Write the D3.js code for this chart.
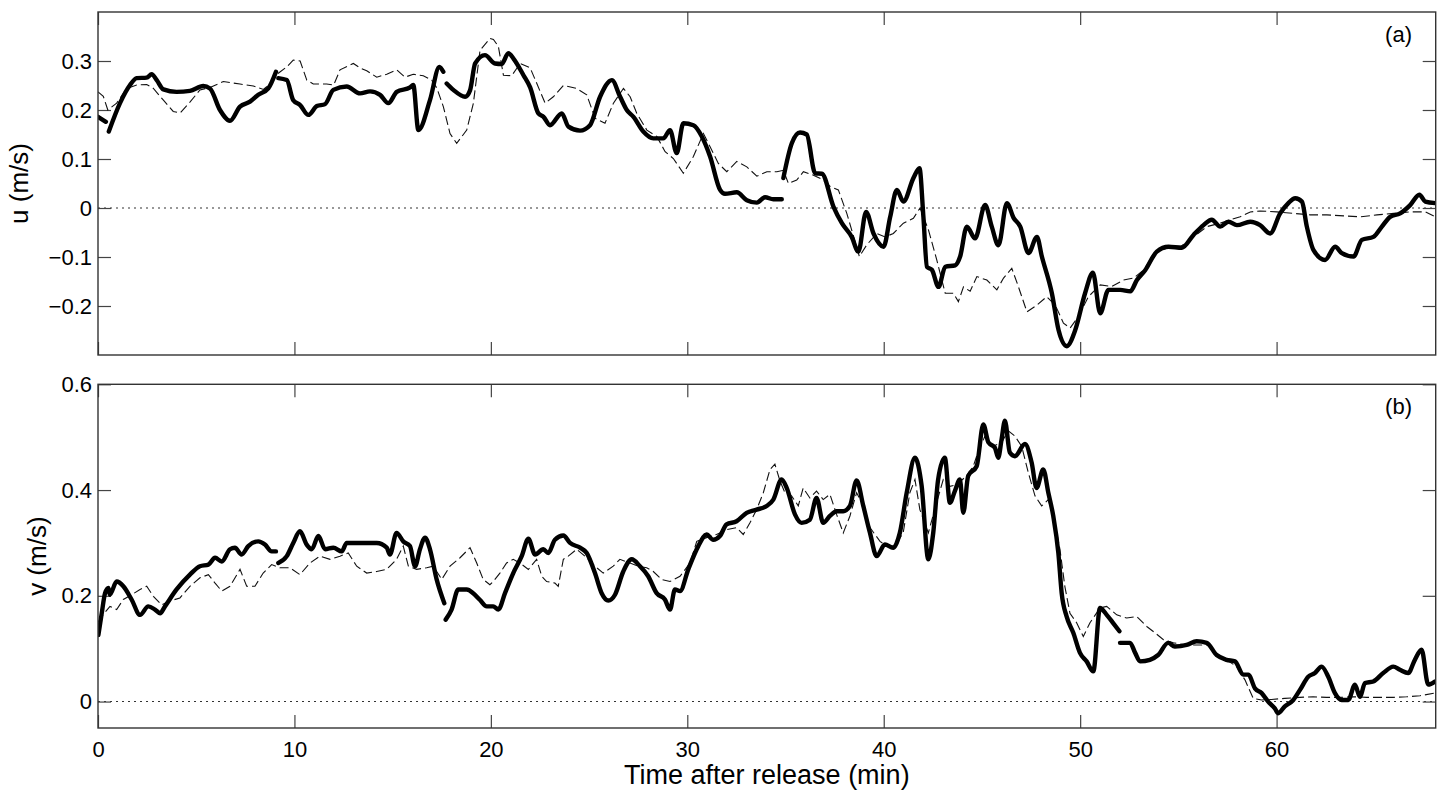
<!DOCTYPE html>
<html>
<head>
<meta charset="utf-8">
<script src="https://cdn.jsdelivr.net/npm/d3@7"></script>
<style>
  html, body { margin: 0; padding: 0; background: #fff; }
  svg { display: block; }
  text { font-family: "Liberation Sans", Arial, Helvetica, sans-serif; fill: #000; }
</style>
</head>
<body>
<svg id="chart" width="1442" height="793"></svg>
<script>
// ---------------- DATA ----------------
const xTicks = [0, 10, 20, 30, 40, 50, 60];
const uTicks = [-0.2, -0.1, 0, 0.1, 0.2, 0.3];
const vTicks = [0, 0.2, 0.4, 0.6];
const panelLabels = ["(a)", "(b)"];
const yTitles = ["u (m/s)", "v (m/s)"];
const xTitle = "Time after release (min)";

// u observed (thick solid); null = gap
const uObsTime = [0.0,0.4,0.47,0.55,1.12,1.63,1.97,2.48,2.73,2.99,3.33,4.0,4.68,5.36,5.7,6.21,6.72,7.23,7.74,8.16,8.67,9.06,9.12,9.18,9.61,9.94,10.29,10.71,11.14,11.56,11.98,12.66,13.34,13.85,14.36,14.78,15.21,15.89,16.05,16.31,16.9,17.38,17.58,17.65,17.75,18.09,18.69,18.94,19.2,19.7,20.21,20.55,20.89,21.15,21.66,22.0,22.42,22.68,23.01,23.61,23.95,24.54,25.05,25.56,26.16,26.58,26.92,27.26,27.76,28.27,28.78,29.12,29.46,29.8,30.31,30.74,31.16,31.67,31.92,32.52,33.03,33.54,33.96,34.38,34.81,34.85,34.89,35.32,35.74,36.08,36.51,36.85,37.44,37.87,38.37,38.71,39.1,39.48,39.99,40.33,40.67,41.0,41.51,41.82,42.02,42.2,42.45,42.79,43.13,43.64,43.89,44.23,44.65,45.16,45.5,45.84,46.27,46.61,46.95,47.37,47.8,48.05,48.56,48.9,49.32,49.75,50.25,50.65,51.02,51.44,52.04,52.55,52.89,53.31,53.9,54.5,55.18,55.77,56.28,56.7,57.13,57.55,57.98,58.66,59.16,59.67,60.18,60.6,60.95,61.29,61.54,61.88,62.47,62.98,63.32,63.92,64.34,64.93,65.36,65.78,66.29,66.8,67.27,67.57,68.08];
const uObsValue = [0.186,0.176,null,0.156,0.214,0.251,0.265,0.266,0.273,0.261,0.242,0.237,0.239,0.249,0.244,0.2,0.178,0.207,0.217,0.231,0.244,0.278,null,0.265,0.261,0.22,0.21,0.19,0.208,0.212,0.241,0.248,0.234,0.238,0.231,0.214,0.237,0.246,0.251,0.159,0.22,0.288,0.278,null,0.254,0.241,0.227,0.24,0.295,0.312,0.295,0.294,0.316,0.305,0.271,0.246,0.193,0.186,0.169,0.193,0.166,0.158,0.169,0.227,0.261,0.227,0.2,0.186,0.156,0.142,0.142,0.159,0.112,0.173,0.169,0.146,0.105,0.037,0.029,0.032,0.016,0.011,0.022,0.018,0.018,null,0.061,0.132,0.154,0.15,0.071,0.07,0.003,-0.031,-0.059,-0.089,-0.008,-0.052,-0.079,-0.018,0.037,0.013,0.061,0.081,-0.018,-0.12,-0.126,-0.161,-0.12,-0.117,-0.099,-0.038,-0.062,0.006,-0.038,-0.076,0.01,-0.02,-0.038,-0.092,-0.059,-0.099,-0.174,-0.249,-0.282,-0.249,-0.174,-0.132,-0.215,-0.167,-0.167,-0.17,-0.147,-0.127,-0.089,-0.079,-0.081,-0.055,-0.035,-0.024,-0.038,-0.028,-0.035,-0.028,-0.035,-0.052,-0.011,0.01,0.02,0.013,-0.038,-0.086,-0.106,-0.079,-0.092,-0.099,-0.065,-0.059,-0.038,-0.018,-0.011,0.006,0.027,0.013,0.01];

// u model (thin dashed)
const uModTime = [0.0,0.27,0.5,0.95,1.46,1.97,2.48,2.82,3.33,3.83,4.18,4.68,5.19,5.7,6.38,7.23,7.91,8.42,8.76,9.18,9.61,9.94,10.29,10.63,10.96,11.64,12.0,12.32,13.0,13.34,13.68,14.19,14.7,15.21,15.63,16.05,16.56,16.99,17.25,17.58,17.92,18.26,18.77,19.11,19.45,19.96,20.13,20.38,20.64,21.06,21.49,22.0,22.34,22.76,23.18,23.69,24.37,24.88,25.31,25.81,26.24,26.75,27.09,27.43,27.94,28.45,28.87,29.29,29.8,30.31,30.82,31.16,31.58,32.01,32.52,33.03,33.54,34.05,34.56,34.89,35.15,35.57,35.91,36.42,36.93,37.27,37.69,38.12,38.37,38.76,39.14,39.65,40.07,40.49,41.0,41.51,41.85,42.28,42.7,43.13,43.55,43.8,44.06,44.4,44.74,45.25,45.76,46.1,46.52,46.86,47.29,47.8,48.3,48.73,49.15,49.49,49.92,50.42,51.02,51.61,52.21,52.72,53.22,53.82,54.42,55.1,55.77,56.45,57.13,57.64,58.15,58.66,59.16,60.01,60.86,61.71,62.56,63.41,64.26,65.11,65.96,66.8,67.57,68.08];
const uModValue = [0.237,0.228,0.2,0.214,0.244,0.251,0.252,0.244,0.22,0.197,0.194,0.216,0.241,0.246,0.258,0.253,0.249,0.242,0.253,0.275,0.288,0.302,0.3,0.261,0.253,0.253,0.251,0.282,0.295,0.286,0.28,0.267,0.273,0.282,0.267,0.273,0.27,0.261,0.245,0.207,0.152,0.132,0.159,0.214,0.322,0.346,0.344,0.33,0.271,0.27,0.295,0.286,0.254,0.214,0.227,0.25,0.244,0.231,0.183,0.173,0.214,0.244,0.227,0.193,0.159,0.146,0.115,0.101,0.071,0.105,0.152,0.125,0.091,0.074,0.095,0.084,0.065,0.074,0.074,0.077,0.05,0.057,0.074,0.067,0.057,0.044,0.037,-0.011,-0.045,-0.099,-0.075,-0.052,-0.059,-0.052,-0.031,-0.021,0.0,-0.045,-0.106,-0.174,-0.174,-0.191,-0.161,-0.17,-0.14,-0.147,-0.167,-0.143,-0.123,-0.161,-0.212,-0.198,-0.181,-0.198,-0.235,-0.245,-0.221,-0.181,-0.157,-0.16,-0.147,-0.143,-0.127,-0.092,-0.082,-0.079,-0.059,-0.038,-0.031,-0.024,-0.018,-0.008,-0.006,-0.008,-0.011,-0.014,-0.014,-0.016,-0.018,-0.014,-0.011,-0.008,-0.008,-0.018];

// v observed (thick solid); null = gap
const vObsTime = [0.02,0.19,0.36,0.53,0.6,0.95,1.29,1.71,2.14,2.56,2.9,3.16,3.41,4.0,4.68,5.19,5.62,5.96,6.3,6.72,6.97,7.31,7.65,8.16,8.5,8.84,9.06,9.12,9.18,9.61,9.94,10.28,10.62,10.88,11.22,11.56,11.98,12.41,12.66,13.34,14.19,14.7,14.86,15.2,15.54,15.88,16.14,16.39,16.65,16.9,17.24,17.63,17.66,17.7,18.0,18.34,18.77,19.1,19.45,19.79,20.12,20.38,20.72,21.14,21.57,21.91,22.25,22.67,22.92,23.26,23.69,24.03,24.54,24.88,25.3,25.64,25.98,26.32,26.74,27.17,27.59,28.01,28.44,28.86,29.12,29.37,29.63,30.05,30.56,30.98,31.32,31.66,32.0,32.51,33.02,33.53,34.04,34.38,34.8,35.06,35.48,35.82,36.24,36.58,36.92,37.26,37.6,37.94,38.28,38.62,38.96,39.3,39.64,40.06,40.48,40.82,41.17,41.59,41.93,42.27,42.52,42.77,43.11,43.37,43.62,43.88,44.05,44.3,44.73,45.07,45.33,45.66,45.83,46.0,46.17,46.42,46.68,47.19,47.53,47.78,48.12,48.38,48.63,48.89,49.06,49.31,49.65,49.99,50.33,50.67,51.01,51.35,51.69,52.0,52.01,52.03,52.54,52.8,53.05,53.55,53.97,54.48,54.82,55.42,55.93,56.44,56.95,57.45,57.88,58.3,58.56,58.9,59.24,59.57,59.91,60.08,60.42,60.85,61.19,61.61,61.95,62.29,62.63,62.97,63.31,63.65,63.99,64.24,64.5,64.92,65.43,65.94,66.28,66.7,67.04,67.38,67.72,68.06];
const vObsValue = [0.126,0.167,0.205,0.215,0.202,0.227,0.218,0.193,0.164,0.18,0.174,0.167,0.18,0.212,0.24,0.256,0.259,0.272,0.265,0.288,0.291,0.278,0.294,0.303,0.297,0.284,0.284,null,0.262,0.275,0.3,0.322,0.297,0.288,0.313,0.288,0.291,0.284,0.3,0.3,0.3,0.291,0.278,0.319,0.303,0.294,0.256,0.288,0.31,0.288,0.231,0.186,null,0.155,0.174,0.212,0.212,0.205,0.192,0.18,0.18,0.174,0.205,0.243,0.275,0.308,0.278,0.288,0.281,0.306,0.314,0.3,0.291,0.281,0.243,0.205,0.191,0.202,0.246,0.269,0.256,0.237,0.205,0.193,0.174,0.212,0.209,0.25,0.294,0.316,0.306,0.313,0.335,0.341,0.357,0.363,0.37,0.382,0.42,0.404,0.354,0.338,0.344,0.385,0.338,0.351,0.36,0.36,0.37,0.418,0.37,0.319,0.275,0.297,0.291,0.319,0.395,0.461,0.408,0.269,0.319,0.42,0.461,0.376,0.398,0.42,0.357,0.427,0.445,0.524,0.49,0.48,0.461,0.496,0.531,0.471,0.464,0.487,0.452,0.404,0.439,0.395,0.351,0.281,0.205,0.161,0.13,0.092,0.076,0.057,0.177,0.164,0.148,0.133,null,0.111,0.111,0.092,0.076,0.079,0.088,0.111,0.104,0.107,0.114,0.111,0.088,0.079,0.076,0.051,0.051,0.025,0.016,0.0,-0.013,-0.022,-0.009,0.003,0.022,0.047,0.054,0.066,0.047,0.016,0.003,0.003,0.032,0.009,0.035,0.038,0.054,0.066,0.06,0.054,0.079,0.098,0.032,0.038];

// v model (thin dashed)
const vModTime = [0.0,0.19,0.61,0.95,1.29,1.71,2.14,2.48,2.82,3.24,3.66,4.17,4.68,5.19,5.62,5.96,6.3,6.72,7.23,7.57,7.99,8.41,8.84,9.26,9.77,10.28,10.79,11.3,11.81,12.32,12.74,13.17,13.68,14.19,14.7,15.2,15.54,15.8,16.22,16.73,17.07,17.5,17.92,18.43,18.94,19.28,19.61,19.95,20.12,20.46,20.8,21.14,21.48,21.91,22.33,22.59,22.84,23.26,23.43,23.69,23.94,24.37,24.88,25.3,25.72,26.23,26.57,27.08,27.5,27.93,28.27,28.69,29.12,29.63,30.14,30.48,30.98,31.49,32.0,32.51,32.85,33.19,33.53,33.87,34.21,34.46,34.72,34.97,35.31,35.65,35.9,36.24,36.58,36.92,37.26,37.6,37.94,38.28,38.62,38.96,39.3,39.81,40.15,40.57,40.99,41.33,41.59,41.84,42.27,42.69,43.03,43.37,43.71,44.22,44.56,44.73,45.15,45.57,46.0,46.34,46.68,47.02,47.36,47.7,48.04,48.38,48.71,48.97,49.22,49.48,49.82,50.16,50.5,51.01,51.35,51.86,52.37,52.88,53.39,53.81,54.24,54.75,55.42,56.1,56.52,56.95,57.45,57.97,58.39,58.81,59.24,59.74,60.42,61.19,61.86,62.54,63.22,63.9,64.58,65.26,65.94,66.62,67.3,68.06];
const vModValue = [0.15,0.161,0.18,0.174,0.193,0.202,0.212,0.218,0.199,0.183,0.19,0.196,0.218,0.234,0.24,0.224,0.209,0.218,0.25,0.218,0.218,0.243,0.259,0.253,0.253,0.24,0.262,0.275,0.269,0.275,0.281,0.256,0.243,0.246,0.25,0.269,0.294,0.256,0.25,0.253,0.256,0.231,0.256,0.272,0.291,0.262,0.231,0.221,0.227,0.243,0.262,0.269,0.262,0.25,0.269,0.237,0.227,0.224,0.218,0.269,0.275,0.288,0.272,0.256,0.243,0.256,0.269,0.262,0.256,0.253,0.246,0.231,0.227,0.237,0.262,0.303,0.31,0.316,0.325,0.329,0.316,0.338,0.363,0.395,0.439,0.449,0.417,0.395,0.389,0.37,0.404,0.385,0.398,0.382,0.392,0.354,0.319,0.351,0.395,0.37,0.329,0.303,0.294,0.294,0.319,0.395,0.42,0.363,0.319,0.376,0.42,0.407,0.41,0.427,0.445,0.464,0.502,0.483,0.49,0.512,0.502,0.483,0.433,0.389,0.37,0.382,0.338,0.288,0.218,0.167,0.149,0.123,0.149,0.177,0.18,0.164,0.158,0.161,0.142,0.13,0.117,0.111,0.107,0.107,0.107,0.085,0.079,0.066,0.041,0.006,0.003,0.004,0.006,0.008,0.009,0.008,0.008,0.009,0.008,0.008,0.008,0.009,0.011,0.016];

// ---------------- DRAW ----------------
const svg = d3.select("#chart");
const X0 = 98, X1 = 1435.7;
const panels = [
  { top: 12,    bottom: 355, domain: [-0.3, 0.4],  ticks: uTicks, label: panelLabels[0], title: yTitles[0], titleX: 28,
    obsT: uObsTime, obsV: uObsValue, modT: uModTime, modV: uModValue, xLabels: false },
  { top: 384.3, bottom: 728, domain: [-0.05, 0.6], ticks: vTicks, label: panelLabels[1], title: yTitles[1], titleX: 46,
    obsT: vObsTime, obsV: vObsValue, modT: vModTime, modV: vModValue, xLabels: true }
];

const x = d3.scaleLinear().domain([0, 68.1]).range([X0, X1]);
const fmt = d => d === 0 ? "0" : d3.format(".1f")(d);

panels.forEach((p, i) => {
  const y = d3.scaleLinear().domain(p.domain).range([p.bottom, p.top]);
  const g = svg.append("g");
  const clipId = "clip" + i;
  svg.append("clipPath").attr("id", clipId).append("rect")
    .attr("x", X0).attr("y", p.top).attr("width", X1 - X0).attr("height", p.bottom - p.top);

  // zero reference line (dotted)
  g.append("line")
    .attr("x1", x(0)).attr("x2", x(68.1))
    .attr("y1", y(0)).attr("y2", y(0))
    .attr("stroke", "#333").attr("stroke-width", 1.1)
    .attr("stroke-dasharray", "2,4");

  const tickStyle = sel => {
    sel.select(".domain").remove();
    sel.selectAll(".tick line").attr("stroke", "#444").attr("stroke-width", 1.2);
    sel.selectAll(".tick text").attr("font-size", 22).attr("fill", "#000")
      .style("font-family", "'Liberation Sans', Arial, Helvetica, sans-serif");
  };

  // axes (ticks inward on all four sides)
  g.append("g").attr("transform", `translate(${X0},0)`)
    .call(d3.axisLeft(y).tickValues(p.ticks).tickSize(-13).tickPadding(6).tickFormat(fmt))
    .call(tickStyle);
  g.append("g").attr("transform", `translate(${X1},0)`)
    .call(d3.axisRight(y).tickValues(p.ticks).tickSize(-13).tickFormat(""))
    .call(tickStyle);
  g.append("g").attr("transform", `translate(0,${p.top})`)
    .call(d3.axisTop(x).tickValues(xTicks).tickSize(-13).tickFormat(""))
    .call(tickStyle);
  g.append("g").attr("transform", `translate(0,${p.bottom})`)
    .call(d3.axisBottom(x).tickValues(xTicks).tickSize(-13).tickPadding(13)
      .tickFormat(p.xLabels ? d3.format("d") : ""))
    .call(tickStyle);

  // model (thin dashed)
  const modData = p.modT.map((t, k) => [t, p.modV[k]]);
  const lineMod = d3.line().x(d => x(d[0])).y(d => y(d[1])).curve(d3.curveLinear);
  g.append("path").datum(modData)
    .attr("clip-path", `url(#${clipId})`)
    .attr("d", lineMod)
    .attr("fill", "none").attr("stroke", "#111").attr("stroke-width", 1.1)
    .attr("stroke-dasharray", "9,4");

  // observed (thick solid, with gaps)
  const obsData = p.obsT.map((t, k) => [t, p.obsV[k]]);
  const lineObs = d3.line().defined(d => d[1] !== null)
    .x(d => x(d[0])).y(d => y(d[1])).curve(d3.curveMonotoneX);
  g.append("path").datum(obsData)
    .attr("clip-path", `url(#${clipId})`)
    .attr("d", lineObs)
    .attr("fill", "none").attr("stroke", "#000").attr("stroke-width", 4.4)
    .attr("stroke-linejoin", "round").attr("stroke-linecap", "round");

  // frame
  g.append("rect").attr("x", X0).attr("y", p.top)
    .attr("width", X1 - X0).attr("height", p.bottom - p.top)
    .attr("fill", "none").attr("stroke", "#333").attr("stroke-width", 1.4);

  // panel label
  g.append("text").attr("x", 1412).attr("y", p.top + 30)
    .attr("text-anchor", "end").attr("font-size", 22).text(p.label);

  // y title
  g.append("text")
    .attr("transform", `translate(${p.titleX},${(p.top + p.bottom) / 2}) rotate(-90)`)
    .attr("text-anchor", "middle").attr("font-size", 26).text(p.title);
});

// x title
svg.append("text").attr("x", (X0 + X1) / 2).attr("y", 784)
  .attr("text-anchor", "middle").attr("font-size", 27).text(xTitle);
</script>
</body>
</html>
